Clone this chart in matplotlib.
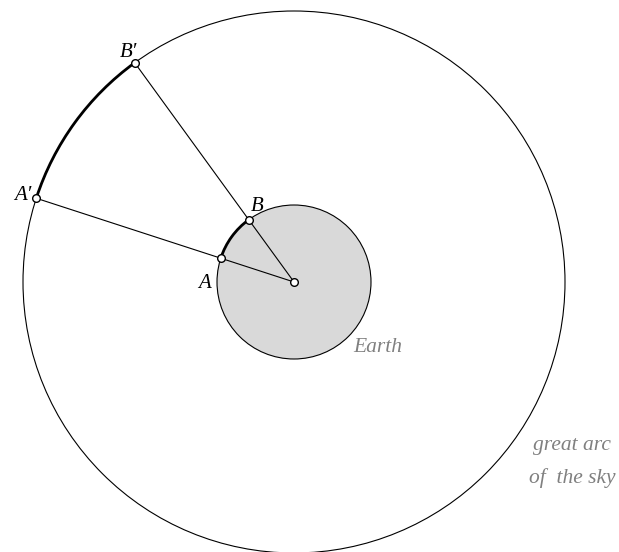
import numpy as np
import matplotlib
matplotlib.use("Agg")
import matplotlib.pyplot as plt
from matplotlib.patches import Circle, Arc

# geometry (pixel units, y down)
CENTER = (294.0, 282.0)
R_SKY = 271.0
R_EARTH = 77.0
ANGLE_A = 162.0   # degrees, counter-clockwise from +x (screen up)
ANGLE_B = 126.0

LABELS = ["A", "B", "A\u2032", "B\u2032"]
LABEL_POS = [(205, 288), (257, 211), (23, 200), (128, 57)]   # baseline anchors

NOTES = ["Earth", "great arc", "of  the sky"]
NOTE_POS = [(378, 352), (572, 450), (572, 483)]

SERIF = ["Liberation Serif", "DejaVu Serif"]


def on_circle(r, ang):
    t = np.deg2rad(ang)
    return CENTER[0] + r * np.cos(t), CENTER[1] - r * np.sin(t)


fig = plt.figure(figsize=(6.19, 5.52), dpi=100)
ax = fig.add_axes([0, 0, 1, 1])
ax.set_xlim(0, 619)
ax.set_ylim(552, 0)
ax.set_aspect("equal")
ax.axis("off")

ax.add_patch(Circle(CENTER, R_SKY, facecolor="none", edgecolor="black", lw=0.8))
ax.add_patch(Circle(CENTER, R_EARTH, facecolor="#d9d9d9", edgecolor="black", lw=0.8))

# bold arcs (y axis inverted, so angles flip sign)
for r in (R_SKY, R_EARTH):
    ax.add_patch(Arc(CENTER, 2 * r, 2 * r, theta1=-ANGLE_A, theta2=-ANGLE_B,
                     color="black", lw=2.0))

pA, pB = on_circle(R_EARTH, ANGLE_A), on_circle(R_EARTH, ANGLE_B)
pA2, pB2 = on_circle(R_SKY, ANGLE_A), on_circle(R_SKY, ANGLE_B)

for p in (pA2, pB2):
    ax.plot([CENTER[0], p[0]], [CENTER[1], p[1]], color="black", lw=0.8)

pts = [pA, pB, pA2, pB2, CENTER]
ax.plot([p[0] for p in pts], [p[1] for p in pts], "o", ms=5.5, mfc="white",
        mec="black", mew=1.0, ls="none", zorder=5)

for lab, (x, y) in zip(LABELS, LABEL_POS):
    ax.text(x, y, lab, fontsize=15, style="italic", family=SERIF,
            ha="center", va="baseline")

for note, (x, y) in zip(NOTES, NOTE_POS):
    ax.text(x, y, note, fontsize=15.5, style="italic", family=SERIF,
            color="#808080", ha="center", va="baseline")

fig.savefig("out.png", dpi=100)
